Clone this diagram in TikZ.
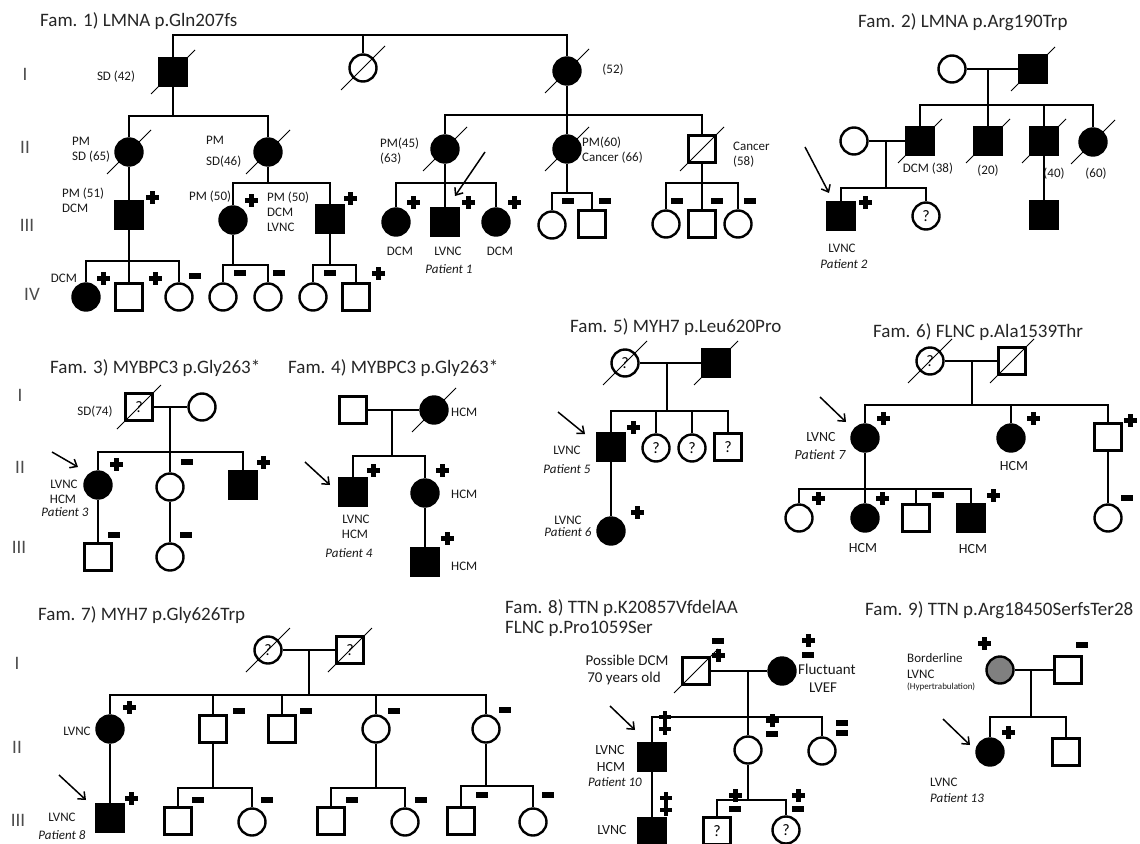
\documentclass[tikz,border=0pt]{standalone}
\usepackage{fontspec}
\setmainfont{Carlito}
\usetikzlibrary{arrows.meta}
\newcommand\psib[3]{\draw[ln] (#2.north) -- (#2.north |- #1) -- (#3.north |- #1) -- (#3.north);}
\newcommand\pdrop[2]{\draw[ln] (#2.north) -- (#2.north |- #1);}
\newcommand\pdead[1]{\draw[sl] (#1.center) ++(-22,22) -- ++(44,-44);}
\tikzset{
  gplus/.pic={\fill[black] (-6.5,-2.5) rectangle (6.5,2.5); \fill[black] (-2.5,-6.5) rectangle (2.5,6.5);},
  gminus/.pic={\fill[black] (-6,-2.6) rectangle (6,2.6);},
  gdd/.pic={\fill[black] (-2.3,-12) rectangle (2.3,12); \fill[black] (-6,-8) rectangle (6,-3.6); \fill[black] (-6,3.6) rectangle (6,8);},
}
\begin{document}
\begin{tikzpicture}[x=1pt,y=-1pt,
  sym/.style={draw=black, line width=2.4pt, minimum size=27pt, inner sep=0pt, font=\fontsize{16}{16}\selectfont},
  sq/.style={sym, rectangle},
  ci/.style={sym, circle},
  aff/.style={fill=black},
  ln/.style={line width=1.3pt, draw=black},
  sl/.style={line width=0.8pt, draw=black},
  ttl/.style={font=\fontsize{19}{22}\selectfont, text=black!85, anchor=west, inner sep=0pt},
  gen/.style={font=\fontsize{19}{22}\selectfont, text=black!70, inner sep=0pt},
  lab/.style={font=\fontsize{13}{15}\selectfont, text=black!90, inner sep=0pt, align=center},
  labl/.style={lab, anchor=west, align=left},
  pat/.style={font=\fontsize{13}{15}\selectfont\itshape, text=black!90, inner sep=0pt},
  prob/.style={line width=1.5pt, -{Straight Barb[length=6pt,width=10pt]}},
]
\fill[white] (0,0) rectangle (1140,843);
\useasboundingbox (0,0) rectangle (1140,843);

% ================= Family 1 =================
\node[ttl] (t1) at (40,21) {Fam. 1) LMNA p.Gln207fs};
\node[gen] (g1a) at (25,74) {I};
\node[gen] (g1b) at (25,147) {II};
\node[gen] (g1c) at (27,225) {III};
\node[gen] (g1d) at (32,294) {IV};

\node[sq,aff] (f1a) at (173,72) {};
\node[ci] (f1b) at (363,68) {};
\node[ci,aff] (f1c) at (567,71) {};
\coordinate (f1top) at (0,35);
\psib{f1top}{f1a}{f1c}
\pdrop{f1top}{f1b}
\pdead{f1a} \pdead{f1b} \pdead{f1c}
\node[lab] (l1a) at (116,77) {SD (42)};
\node[lab] (l1b) at (613,70) {(52)};

\node[ci,aff] (f1d) at (129,152) {};
\node[ci,aff] (f1e) at (268,152) {};
\coordinate (f1h1) at (173,116);
\draw[ln] (f1a.south) -- (f1h1);
\psib{f1h1}{f1d}{f1e}
\pdead{f1d} \pdead{f1e}
\node[labl] (l1c) at (72,150) {PM\\SD (65)};
\node[labl] (l1d) at (206,140) {PM};
\node[labl] (l1e) at (206,162) {SD(46)};

\node[sq,aff] (f1f) at (129,215) {};
\draw[ln] (f1d.south) -- (f1f.north);
\pic at (152,197) {gplus};
\node[labl] (l1f) at (62,200) {PM (51)\\DCM};

\node[ci,aff] (f1g) at (233,220) {};
\node[sq,aff] (f1h) at (330,219) {};
\coordinate (f1h2) at (268,183);
\draw[ln] (f1e.south) -- (f1h2);
\psib{f1h2}{f1g}{f1h}
\pic at (251,200) {gplus};
\pic at (350,198) {gplus};
\node[labl] (l1g) at (189,197) {PM (50)};
\node[labl] (l1h) at (267,212) {PM (50)\\DCM\\LVNC};

\node[ci,aff] (f1i) at (86,297) {};
\node[sq] (f1j) at (129,297) {};
\node[ci] (f1k) at (179,297) {};
\coordinate (f1h3) at (129,261);
\draw[ln] (f1f.south) -- (f1h3);
\psib{f1h3}{f1i}{f1k}
\pdrop{f1h3}{f1j}
\node[lab] (l1i) at (64,278) {DCM};
\pic at (103,278) {gplus};
\pic at (155,278) {gplus};
\pic at (195,276) {gminus};

\node[ci] (f1l) at (223,297) {};
\node[ci] (f1m) at (268,297) {};
\coordinate (f1h4) at (233,265);
\draw[ln] (f1g.south) -- (f1h4);
\psib{f1h4}{f1l}{f1m}
\pic at (240,273) {gminus};
\pic at (279,273) {gminus};

\node[ci] (f1n) at (313,297) {};
\node[sq] (f1o) at (356,297) {};
\coordinate (f1h5) at (330,265);
\draw[ln] (f1h.south) -- (f1h5);
\psib{f1h5}{f1n}{f1o}
\pic at (330,273) {gminus};
\pic at (378,273) {gplus};

\coordinate (f1h6) at (567,115);
\draw[ln] (f1c.south) -- (f1h6);
\node[ci,aff] (f1p) at (445,149) {};
\node[ci,aff] (f1q) at (567,149) {};
\node[sq] (f1r) at (702,149) {};
\psib{f1h6}{f1p}{f1r}
\pdrop{f1h6}{f1q}
\pdead{f1p} \pdead{f1q} \pdead{f1r}
\node[labl] (l1j) at (380,151) {PM(45)\\(63)};
\node[labl] (l1k) at (582,150) {PM(60)\\Cancer (66)};
\node[labl] (l1l) at (733,155) {Cancer\\(58)};

\node[ci,aff] (f1s) at (396,222) {};
\node[sq,aff] (f1t) at (445,222) {};
\node[ci,aff] (f1u) at (496,222) {};
\coordinate (f1h7) at (445,183);
\draw[ln] (f1p.south) -- (f1h7);
\psib{f1h7}{f1s}{f1u}
\pdrop{f1h7}{f1t}
\pic at (413,202) {gplus};
\pic at (468,202) {gplus};
\pic at (514,202) {gplus};
\node[lab] (l1m) at (400,251) {DCM};
\node[lab] (l1n) at (448,251) {LVNC};
\node[lab] (l1o) at (500,251) {DCM};
\node[pat] (l1p) at (449,269) {Patient 1};
\coordinate (a1s) at (485,152);
\coordinate (a1e) at (455,196);
\draw[prob] (a1s) -- (a1e);

\node[ci] (f1v) at (552,225) {};
\node[sq] (f1w) at (592,224) {};
\coordinate (f1h8) at (567,193);
\draw[ln] (f1q.south) -- (f1h8);
\psib{f1h8}{f1v}{f1w}
\pic at (568,201) {gminus};
\pic at (605,201) {gminus};

\node[ci] (f1x) at (666,224) {};
\node[sq] (f1y) at (702,224) {};
\node[ci] (f1z) at (738,224) {};
\coordinate (f1h9) at (702,183);
\draw[ln] (f1r.south) -- (f1h9);
\psib{f1h9}{f1x}{f1z}
\pdrop{f1h9}{f1y}
\pic at (677,201) {gminus};
\pic at (717,201) {gminus};
\pic at (750,201) {gminus};

% ================= Family 2 =================
\node[ttl] (t2) at (858,22) {Fam. 2) LMNA p.Arg190Trp};
\node[ci] (f2a) at (952,69) {};
\node[sq,aff] (f2b) at (1033,69) {};
\draw[ln] (f2a.east) -- (f2b.west);
\coordinate (f2m1) at (988,69);
\coordinate (f2h1) at (988,105);
\draw[ln] (f2m1) -- (f2h1);
\node[sq,aff] (f2c) at (920,141) {};
\node[sq,aff] (f2d) at (988,141) {};
\node[sq,aff] (f2e) at (1044,141) {};
\node[ci,aff] (f2f) at (1093,142) {};
\psib{f2h1}{f2c}{f2f}
\pdrop{f2h1}{f2d}
\pdrop{f2h1}{f2e}
\pdead{f2b} \pdead{f2c} \pdead{f2d} \pdead{f2e} \pdead{f2f}
\node[lab] (l2a) at (928,169) {DCM (38)};
\node[lab] (l2b) at (988,171) {(20)};
\node[lab] (l2c) at (1054,174) {(40)};
\node[lab] (l2d) at (1096,174) {(60)};
\node[ci] (f2g) at (854,141) {};
\draw[ln] (f2g.east) -- (f2c.west);
\coordinate (f2m2) at (886,141);
\coordinate (f2h2) at (886,188);
\draw[ln] (f2m2) -- (f2h2);
\node[sq,aff] (f2h) at (841,216) {};
\node[ci] (f2i) at (926,216) {?};
\psib{f2h2}{f2h}{f2i}
\node[sq,aff] (f2j) at (1044,215) {};
\draw[ln] (f2e.south) -- (f2j.north);
\pic at (865,202) {gplus};
\node[lab] (l2e) at (842,248) {LVNC};
\node[pat] (l2f) at (844,264) {Patient 2};
\coordinate (a2s) at (805,147);
\coordinate (a2e) at (829,193);
\draw[prob] (a2s) -- (a2e);

% ================= Family 3 =================
\node[ttl] (t3) at (50,368) {Fam. 3) MYBPC3 p.Gly263*};
\node[gen] (g3a) at (20,395) {I};
\node[gen] (g3b) at (20,467) {II};
\node[gen] (g3c) at (19,547) {III};
\node[sq] (f3a) at (139,407) {?};
\node[ci] (f3b) at (202,407) {};
\draw[ln] (f3a.east) -- (f3b.west);
\pdead{f3a}
\node[lab] (l3a) at (95,412) {SD(74)};
\coordinate (f3m) at (170,407);
\coordinate (f3h) at (170,452);
\draw[ln] (f3m) -- (f3h);
\node[ci,aff] (f3c) at (98,485) {};
\node[ci] (f3d) at (170,487) {};
\node[sq,aff] (f3e) at (243,485) {};
\psib{f3h}{f3c}{f3e}
\pdrop{f3h}{f3d}
\pic at (116,464) {gplus};
\pic at (187,462) {gminus};
\pic at (263,462) {gplus};
\node[lab] (l3b) at (64,484) {LVNC};
\node[lab] (l3c) at (63,499) {HCM};
\node[pat] (l3d) at (65,512) {Patient 3};
\coordinate (a3s) at (52,452);
\coordinate (a3e) at (78,467);
\draw[prob] (a3s) -- (a3e);
\node[sq] (f3f) at (98,557) {};
\node[ci] (f3g) at (170,557) {};
\draw[ln] (f3c.south) -- (f3f.north);
\draw[ln] (f3d.south) -- (f3g.north);
\pic at (114,535) {gminus};
\pic at (186,535) {gminus};

% ================= Family 4 =================
\node[ttl] (t4) at (288,368) {Fam. 4) MYBPC3 p.Gly263*};
\node[sq] (f4a) at (353,410) {};
\node[ci,aff] (f4b) at (434,410) {};
\draw[ln] (f4a.east) -- (f4b.west);
\pdead{f4b}
\node[labl] (l4a) at (451,412) {HCM};
\coordinate (f4m) at (392,410);
\coordinate (f4h) at (392,456);
\draw[ln] (f4m) -- (f4h);
\node[sq,aff] (f4c) at (353,492) {};
\node[ci,aff] (f4d) at (425,493) {};
\psib{f4h}{f4c}{f4d}
\pic at (373,470) {gplus};
\pic at (442,470) {gplus};
\node[labl] (l4b) at (451,494) {HCM};
\node[lab] (l4c) at (356,519) {LVNC};
\node[lab] (l4d) at (355,534) {HCM};
\node[pat] (l4e) at (349,553) {Patient 4};
\coordinate (a4s) at (305,462);
\coordinate (a4e) at (330,485);
\draw[prob] (a4s) -- (a4e);
\node[sq,aff] (f4e) at (425,562) {};
\draw[ln] (f4d.south) -- (f4e.north);
\pic at (447,538) {gplus};
\node[labl] (l4f) at (451,566) {HCM};

% ================= Family 5 =================
\node[ttl] (t5) at (570,327) {Fam. 5) MYH7 p.Leu620Pro};
\node[ci] (f5a) at (625,363) {?};
\node[sq,aff] (f5b) at (716,363) {};
\draw[ln] (f5a.east) -- (f5b.west);
\pdead{f5a} \pdead{f5b}
\coordinate (f5m) at (667,363);
\coordinate (f5h) at (667,411);
\draw[ln] (f5m) -- (f5h);
\node[sq,aff] (f5c) at (611,447) {};
\node[ci] (f5d) at (656,448) {?};
\node[ci] (f5e) at (692,448) {?};
\node[sq] (f5f) at (728,447) {?};
\psib{f5h}{f5c}{f5f}
\pdrop{f5h}{f5d}
\pdrop{f5h}{f5e}
\pic at (633,427) {gplus};
\node[lab] (l5a) at (567,450) {LVNC};
\node[pat] (l5b) at (567,469) {Patient 5};
\coordinate (a5s) at (558,412);
\coordinate (a5e) at (585,434);
\draw[prob] (a5s) -- (a5e);
\node[ci,aff] (f5g) at (611,531) {};
\draw[ln] (f5c.south) -- (f5g.north);
\pic at (637,512) {gplus};
\node[lab] (l5c) at (568,520) {LVNC};
\node[pat] (l5d) at (568,532) {Patient 6};

% ================= Family 6 =================
\node[ttl] (t6) at (873,332) {Fam. 6) FLNC p.Ala1539Thr};
\node[ci] (f6a) at (930,361) {?};
\node[sq] (f6b) at (1012,361) {};
\draw[ln] (f6a.east) -- (f6b.west);
\pdead{f6a} \pdead{f6b}
\coordinate (f6m) at (972,361);
\coordinate (f6h) at (972,405);
\draw[ln] (f6m) -- (f6h);
\node[ci,aff] (f6c) at (865,438) {};
\node[ci,aff] (f6d) at (1011,438) {};
\node[sq] (f6e) at (1108,437) {};
\psib{f6h}{f6c}{f6e}
\pdrop{f6h}{f6d}
\pic at (883,418) {gplus};
\pic at (1033,418) {gplus};
\pic at (1130,420) {gplus};
\node[lab,font=\fontsize{14}{16}\selectfont] (l6a) at (821,437) {LVNC};
\node[pat,font=\fontsize{14}{16}\selectfont\itshape] (l6b) at (820,455) {Patient 7};
\node[lab,font=\fontsize{14}{16}\selectfont] (l6c) at (1014,466) {HCM};
\coordinate (a6s) at (820,397);
\coordinate (a6e) at (846,422);
\draw[prob] (a6s) -- (a6e);
\node[ci] (f6f) at (799,518) {};
\node[ci,aff] (f6g) at (865,518) {};
\node[sq] (f6h2) at (916,518) {};
\node[sq,aff] (f6i) at (971,518) {};
\coordinate (f6hb) at (865,489);
\draw[ln] (f6c.south) -- (f6hb);
\psib{f6hb}{f6f}{f6i}
\pdrop{f6hb}{f6g}
\pdrop{f6hb}{f6h2}
\pic at (818,498) {gplus};
\pic at (882,498) {gplus};
\pic at (938,495) {gminus};
\pic at (993,495) {gplus};
\node[lab,font=\fontsize{14}{16}\selectfont] (l6d) at (863,548) {HCM};
\node[lab,font=\fontsize{14}{16}\selectfont] (l6e) at (973,549) {HCM};
\node[ci] (f6j) at (1108,518) {};
\draw[ln] (f6e.south) -- (f6j.north);
\pic at (1127,498) {gminus};

% ================= Family 7 =================
\node[ttl] (t7) at (38,615) {Fam. 7) MYH7 p.Gly626Trp};
\node[gen] (g7a) at (17,663) {I};
\node[gen] (g7b) at (17,747) {II};
\node[gen] (g7c) at (18,820) {III};
\node[ci] (f7a) at (268,650) {?};
\node[sq] (f7b) at (350,650) {?};
\draw[ln] (f7a.east) -- (f7b.west);
\pdead{f7a} \pdead{f7b}
\coordinate (f7m) at (309,650);
\coordinate (f7h) at (309,695);
\draw[ln] (f7m) -- (f7h);
\node[ci,aff] (f7c) at (110,729) {};
\node[sq] (f7d) at (213,729) {};
\node[sq] (f7e) at (282,729) {};
\node[ci] (f7f) at (376,729) {};
\node[ci] (f7g) at (486,729) {};
\psib{f7h}{f7c}{f7g}
\pdrop{f7h}{f7d}
\pdrop{f7h}{f7e}
\pdrop{f7h}{f7f}
\pic at (129,707) {gplus};
\pic at (239,711) {gminus};
\pic at (306,711) {gminus};
\pic at (394,711) {gminus};
\pic at (505,710) {gminus};
\node[lab] (l7a) at (77,731) {LVNC};
\node[sq,aff] (f7i0) at (110,818) {};
\draw[ln] (f7c.south) -- (f7i0.north);
\pic at (131,798) {gplus};
\node[lab] (l7b) at (62,817) {LVNC};
\node[pat] (l7c) at (62,835) {Patient 8};
\coordinate (a7s) at (59,775);
\coordinate (a7e) at (86,800);
\draw[prob] (a7s) -- (a7e);
\node[sq] (f7i) at (178,821) {};
\node[ci] (f7j) at (252,822) {};
\coordinate (f7h1) at (213,788);
\draw[ln] (f7d.south) -- (f7h1);
\psib{f7h1}{f7i}{f7j}
\pic at (198,800) {gminus};
\pic at (267,800) {gminus};
\node[sq] (f7k) at (331,821) {};
\node[ci] (f7l) at (405,822) {};
\coordinate (f7h2) at (376,788);
\draw[ln] (f7f.south) -- (f7h2);
\psib{f7h2}{f7k}{f7l}
\pic at (352,800) {gminus};
\pic at (421,800) {gminus};
\node[sq] (f7m2) at (461,821) {};
\node[ci] (f7n) at (533,822) {};
\coordinate (f7h3) at (486,786);
\draw[ln] (f7g.south) -- (f7h3);
\psib{f7h3}{f7m2}{f7n}
\pic at (482,795) {gminus};
\pic at (548,795) {gminus};

% ================= Family 8 =================
\node[ttl] (t8a) at (505,608) {Fam. 8) TTN p.K20857VfdelAA};
\node[ttl] (t8b) at (505,629) {FLNC p.Pro1059Ser};
\node[sq] (f8a) at (696,671) {};
\node[ci,aff] (f8b) at (782,671) {};
\draw[ln] (f8a.east) -- (f8b.west);
\pdead{f8a}
\pic at (718,641) {gminus};
\pic at (718,655) {gplus};
\pic at (808,640) {gplus};
\pic at (808,655) {gminus};
\node[lab,font=\fontsize{15}{17}\selectfont] (l8a) at (627,660) {Possible DCM};
\node[lab,font=\fontsize{15}{17}\selectfont] (l8b) at (624,678) {70 years old};
\node[labl,font=\fontsize{15}{17}\selectfont] (l8c) at (798,669) {Fluctuant};
\node[lab,font=\fontsize{15}{17}\selectfont] (l8d) at (823,688) {LVEF};
\coordinate (f8m) at (748,671);
\coordinate (f8h1) at (748,717);
\draw[ln] (f8m) -- (f8h1);
\node[sq,aff] (f8c) at (652,757) {};
\node[ci] (f8d) at (748,750) {};
\node[ci] (f8e) at (822,751) {};
\psib{f8h1}{f8c}{f8e}
\pdrop{f8h1}{f8d}
\pic at (665,723) {gdd};
\pic at (772,720) {gplus};
\pic at (772,734) {gminus};
\pic at (842,723) {gminus};
\pic at (842,733) {gminus};
\node[lab,font=\fontsize{14}{16}\selectfont] (l8e) at (610,750) {LVNC};
\node[lab,font=\fontsize{14}{16}\selectfont] (l8f) at (611,767) {HCM};
\node[pat] (l8g) at (615,782) {Patient 10};
\coordinate (a8s) at (610,706);
\coordinate (a8e) at (635,730);
\draw[prob] (a8s) -- (a8e);
\node[sq,aff] (f8f) at (652,832) {};
\draw[ln] (f8c.south) -- (f8f.north);
\pic at (666,804) {gdd};
\node[lab,font=\fontsize{14}{16}\selectfont] (l8h) at (612,830) {LVNC};
\node[sq] (f8g) at (717,831) {?};
\node[ci] (f8h) at (786,830) {?};
\coordinate (f8h2) at (748,800);
\draw[ln] (f8d.south) -- (f8h2);
\psib{f8h2}{f8g}{f8h}
\pic at (735,795) {gplus};
\pic at (735,809) {gminus};
\pic at (798,795) {gplus};
\pic at (798,809) {gminus};

% ================= Family 9 =================
\node[ttl] (t9) at (865,610) {Fam. 9) TTN p.Arg18450SerfsTer28};
\node[ci,fill=black!50] (f9a) at (1000,670) {};
\node[sq] (f9b) at (1068,670) {};
\draw[ln] (f9a.east) -- (f9b.west);
\pic at (984,643) {gplus};
\pic at (1082,645) {gminus};
\node[labl] (l9a) at (907,658) {Borderline};
\node[labl] (l9b) at (907,674) {LVNC};
\node[labl,font=\fontsize{9}{10}\selectfont] (l9c) at (907,687) {(Hypertrabulation)};
\coordinate (f9m) at (1031,670);
\coordinate (f9h) at (1031,717);
\draw[ln] (f9m) -- (f9h);
\node[ci,aff] (f9c) at (990,752) {};
\node[sq] (f9d) at (1066,752) {};
\psib{f9h}{f9c}{f9d}
\pic at (1008,732) {gplus};
\node[labl] (l9d) at (930,782) {LVNC};
\node[pat,anchor=west] (l9e) at (930,798) {Patient 13};
\coordinate (a9s) at (943,719);
\coordinate (a9e) at (970,745);
\draw[prob] (a9s) -- (a9e);
\end{tikzpicture}
\end{document}
